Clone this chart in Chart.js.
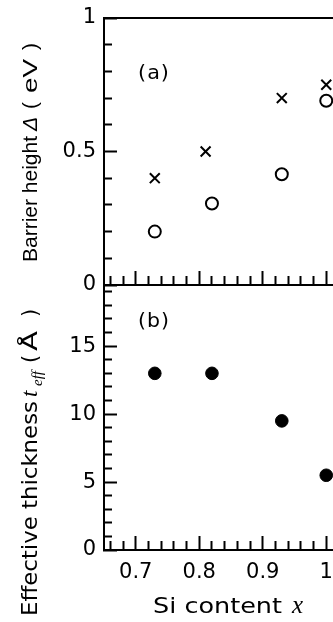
<!DOCTYPE html>
<html><head><meta charset="utf-8">
<script src="https://cdn.jsdelivr.net/npm/chart.js@4.4.0/dist/chart.umd.min.js"></script>
<style>
html,body{margin:0;padding:0;width:333px;height:622px;overflow:hidden;background:#fff;}
#wrap{position:relative;width:333px;height:622px;overflow:hidden;background:#fff;}
canvas{position:absolute;left:0;top:0;}
</style></head><body>
<div id="wrap"><canvas id="ca" width="370" height="622"></canvas><canvas id="cb" width="370" height="622"></canvas></div>
<script>
// ---- data ----
const siCross = [0.73, 0.81, 0.93, 1.00];
const barrierCross = [0.40, 0.50, 0.70, 0.75];
const siCircle = [0.73, 0.82, 0.93, 1.00];
const barrierCircle = [0.20, 0.305, 0.415, 0.69];
const siFilled = [0.73, 0.82, 0.93, 1.00];
const thickness = [13, 13, 9.5, 5.5];
// ---- ticks ----
const xMajorTicks = [0.7, 0.8, 0.9, 1.0];
const xTickLabels = ['0.7', '0.8', '0.9', '1'];
const yAMajorTicks = [0, 0.5, 1];
const yATickLabels = ['0', '0.5', '1'];
const yBMajorTicks = [0, 5, 10, 15];
const yBTickLabels = ['0', '5', '10', '15'];

function range(a, b, step) { const r = []; for (let v = a; v <= b + step / 1000; v += step) r.push(Math.round(v * 1000) / 1000); return r; }
const xTickValues = range(0.66, 1.04, 0.02);
const yATickValues = range(0, 1, 0.1);
const yBTickValues = range(0, 19, 1);
function near(a, b) { return Math.abs(a - b) < 1e-6; }
function labelFor(v, majors, labels) { const i = majors.findIndex(m => near(m, v)); return i >= 0 ? labels[i] : ''; }

const SANS = '"Liberation Sans", Arial, sans-serif';
const DJ = '"DejaVu Sans", ' + SANS;
const SERIF = '"Liberation Serif", "DejaVu Serif", serif';

function xAxis(showLabels, height) {
  return {
    type: 'linear', position: 'bottom', min: 0.65, max: 1.05,
    afterBuildTicks: s => { s.ticks = xTickValues.map(v => ({ value: v })); },
    afterFit: s => { s.height = height; s.paddingLeft = 0; s.paddingRight = 0; },
    ticks: { display: showLabels, autoSkip: false, maxRotation: 0, minRotation: 0, padding: 24, color: '#000',
      font: { family: DJ, size: 21 }, callback: v => labelFor(v, xMajorTicks, xTickLabels) },
    grid: { display: true, drawOnChartArea: false, drawTicks: true, tickLength: -14, tickWidth: 2, tickColor: '#000',
      tickBorderDash: c => (c.tick && !xMajorTicks.some(m => near(m, c.tick.value))) ? [10, 100] : [] },
    border: { display: true, color: '#000', width: 2 }
  };
}
function xTopAxis() {
  return {
    type: 'linear', position: 'top', min: 0.65, max: 1.05,
    afterFit: s => { s.height = 0; s.paddingLeft = 0; s.paddingRight = 0; },
    ticks: { display: false }, grid: { display: false, drawTicks: false },
    border: { display: true, color: '#000', width: 2 }
  };
}
function yAxis(min, max, tickVals, majors, labels) {
  return {
    type: 'linear', position: 'left', min: min, max: max,
    afterBuildTicks: s => { s.ticks = tickVals.map(v => ({ value: v })); },
    afterFit: s => { s.width = 104; s.paddingTop = 0; s.paddingBottom = 0; },
    ticks: { autoSkip: false, padding: 21, color: '#000', font: { family: DJ, size: 21 },
      callback: v => labelFor(v, majors, labels) },
    grid: { display: true, drawOnChartArea: false, drawTicks: true, tickLength: -13, tickWidth: 2, tickColor: '#000',
      tickBorderDash: c => (c.tick && !majors.some(m => near(m, c.tick.value))) ? [0, 5, 9, 100] : [] },
    border: { display: true, color: '#000', width: 2 }
  };
}

function piece(ctx, text, font, x, y, w, rot, spacing) {
  ctx.save();
  ctx.translate(x, y);
  if (rot) ctx.rotate(-Math.PI / 2);
  ctx.font = font;
  if (spacing && ('letterSpacing' in ctx)) ctx.letterSpacing = spacing + 'px';
  ctx.textAlign = 'left';
  ctx.textBaseline = 'alphabetic';
  ctx.fillStyle = '#000';
  const m = ctx.measureText(text).width;
  if (w && m > 0) ctx.scale(w / m, 1);
  ctx.fillText(text, 0, 0);
  ctx.restore();
}

const textA = {
  id: 'textA',
  afterDraw(chart) {
    const ctx = chart.ctx;
    piece(ctx, 'Barrier height', '21px ' + SANS, 37, 262, 0, true);
    piece(ctx, 'Δ', 'italic 21px ' + SANS, 37, 131, 0, true);
    piece(ctx, '(', '21px ' + SANS, 37, 109, 0, true);
    piece(ctx, 'eV', '21px ' + SANS, 37, 93, 34, true);
    piece(ctx, ')', '21px ' + SANS, 37, 50, 0, true);
    piece(ctx, '(a)', '20px ' + DJ, 138, 79, 32, false, 1);
  }
};
const textB = {
  id: 'textB',
  afterDraw(chart) {
    const ctx = chart.ctx;
    piece(ctx, 'Effective thickness', '21px ' + DJ, 37, 616, 215, true);
    piece(ctx, 't', 'italic 23px ' + SERIF, 37, 397, 0, true);
    piece(ctx, 'eff', 'italic 15px ' + SERIF, 42, 386, 0, true);
    piece(ctx, '(', '21px ' + DJ, 37, 363, 0, true);
    piece(ctx, 'Å', '21px ' + DJ, 37, 351, 20, true);
    piece(ctx, ')', '21px ' + DJ, 37, 317, 0, true);
    piece(ctx, '(b)', '20px ' + DJ, 138, 327, 32, false, 1);
    piece(ctx, 'Si content', '21px ' + DJ, 153, 613, 129, false);
    piece(ctx, 'x', 'italic 25px ' + SERIF, 292, 613, 0, false);
  }
};

const common = {
  responsive: false, animation: false, devicePixelRatio: 1, events: [],
  plugins: { legend: { display: false }, tooltip: { enabled: false } }
};

new Chart(document.getElementById('ca'), {
  type: 'scatter',
  data: { datasets: [
    { data: siCross.map((x, i) => ({ x: x, y: barrierCross[i] })), pointStyle: 'crossRot', pointRadius: 7,
      borderColor: '#000', backgroundColor: '#000', borderWidth: 2 },
    { data: siCircle.map((x, i) => ({ x: x, y: barrierCircle[i] })), pointStyle: 'circle', pointRadius: 6,
      borderColor: '#000', backgroundColor: 'rgba(255,255,255,0)', borderWidth: 2 }
  ] },
  options: Object.assign({}, common, {
    layout: { padding: { top: 18, left: 0, right: 12, bottom: 0 } },
    scales: { x: xAxis(false, 337), xTop: xTopAxis(), y: yAxis(0, 1, yATickValues, yAMajorTicks, yATickLabels) }
  }),
  plugins: [textA]
});

new Chart(document.getElementById('cb'), {
  type: 'scatter',
  data: { datasets: [
    { data: siFilled.map((x, i) => ({ x: x, y: thickness[i] })), pointStyle: 'circle', pointRadius: 6.3,
      borderColor: '#000', backgroundColor: '#000', borderWidth: 1 }
  ] },
  options: Object.assign({}, common, {
    layout: { padding: { top: 285, left: 0, right: 12, bottom: 0 } },
    scales: { x: xAxis(true, 72), xTop: xTopAxis(), y: yAxis(0, 19.5, yBTickValues, yBMajorTicks, yBTickLabels) }
  }),
  plugins: [textB]
});
</script>
</body></html>
